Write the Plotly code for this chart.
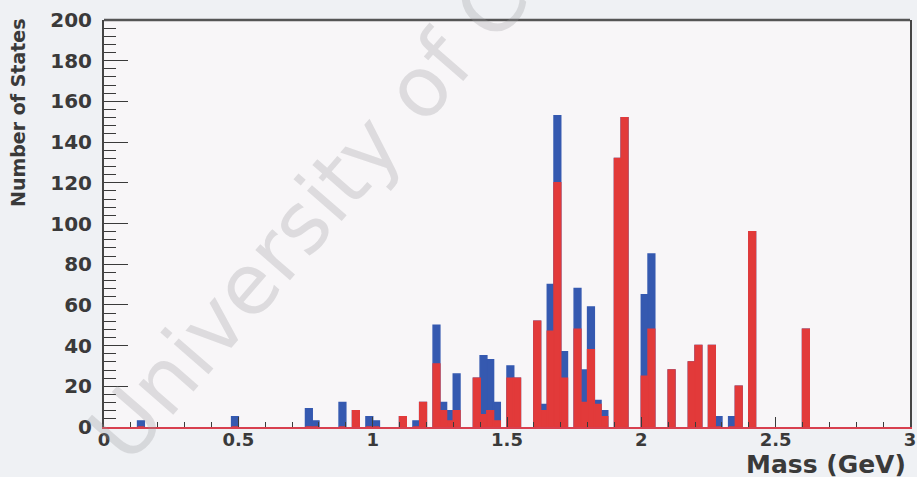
import plotly.graph_objects as go

# ---- data ----
bin_width = 0.025  # GeV
bin_low_edge = [0.125, 0.475, 0.75, 0.775, 0.875, 0.925, 0.975, 1.0, 1.10, 1.15,
                1.175, 1.225, 1.25, 1.275, 1.30, 1.375, 1.40, 1.425, 1.45, 1.50,
                1.525, 1.60, 1.625, 1.65, 1.675, 1.70, 1.75, 1.775, 1.80, 1.825,
                1.85, 1.90, 1.925, 2.00, 2.025, 2.10, 2.175, 2.20, 2.25, 2.275,
                2.325, 2.35, 2.40, 2.60]
total_states = [3, 5, 9, 3, 12, 8, 5, 3, 5, 3,
                12, 50, 12, 8, 26, 24, 35, 33, 12, 30,
                24, 52, 11, 70, 153, 37, 68, 28, 59, 13,
                8, 132, 152, 65, 85, 28, 32, 40, 40, 5,
                5, 20, 96, 48]
subset_states = [0, 0, 0, 0, 0, 8, 0, 0, 5, 0,
                 12, 31, 8, 3, 8, 24, 6, 8, 3, 24,
                 24, 52, 8, 47, 120, 24, 48, 12, 38, 11,
                 5, 132, 152, 25, 48, 28, 32, 40, 40, 0,
                 0, 20, 96, 48]
x_tick_vals = [0, 0.5, 1, 1.5, 2, 2.5, 3]
x_tick_text = ["0", "0.5", "1", "1.5", "2", "2.5", "3"]
y_tick_vals = [0, 20, 40, 60, 80, 100, 120, 140, 160, 180, 200]

centers = [e + bin_width / 2 for e in bin_low_edge]

BLUE = "#3559b0"
RED = "#e23a3a"
DARK = "#3a3a3a"
FONT = "DejaVu Sans"

fig = go.Figure()
fig.add_trace(go.Bar(x=centers, y=total_states, width=bin_width,
                     marker=dict(color=BLUE, line=dict(color=BLUE, width=1.5)),
                     name="all"))
fig.add_trace(go.Bar(x=centers, y=subset_states, width=bin_width,
                     marker=dict(color=RED, line=dict(color=RED, width=1.5)),
                     name="subset"))

fig.update_layout(
    width=917, height=477,
    margin=dict(l=104, r=1, t=20, b=50),
    barmode="overlay",
    showlegend=False,
    paper_bgcolor="#eff1f4",
    plot_bgcolor="#f8f6f8",
    font=dict(family=FONT, color=DARK),
)

fig.update_xaxes(
    range=[0, 3], tickvals=x_tick_vals, ticktext=x_tick_text,
    ticks="inside", ticklen=10, tickwidth=1.2, tickcolor=DARK,
    minor=dict(dtick=0.1, ticks="inside", ticklen=5, tickcolor=DARK, tickwidth=1),
    showgrid=False, zeroline=False,
    showline=True, linecolor="#d8404f", linewidth=1.5,
    tickfont=dict(family=FONT, size=18, color=DARK, weight="bold"),
    ticklabelstandoff=-4, ticklabeloverflow="allow",
)
fig.update_yaxes(
    range=[0, 200], tickvals=y_tick_vals,
    ticks="inside", ticklen=24, tickwidth=1.2, tickcolor=DARK,
    minor=dict(dtick=4, ticks="inside", ticklen=12, tickcolor=DARK, tickwidth=1),
    showgrid=False, zeroline=False,
    showline=True, linecolor="#444444", linewidth=2, mirror=True,
    tickfont=dict(family=FONT, size=20, color=DARK, weight="bold"),
    ticklabelstandoff=6,
)

# top frame line
fig.add_shape(type="line", xref="paper", yref="paper", x0=0, x1=1, y0=1, y1=1,
              line=dict(color="#555555", width=2.5))

# axis titles
fig.add_annotation(text="Mass (GeV)", xref="paper", yref="paper",
                   x=0.998, y=-0.093, xanchor="right", yanchor="middle",
                   showarrow=False,
                   font=dict(family=FONT, size=25, color=DARK, weight="bold"))
fig.add_annotation(text="Number of States", xref="paper", yref="paper",
                   x=-0.106, y=1.01, xanchor="center", yanchor="top",
                   textangle=-90, showarrow=False,
                   font=dict(family=FONT, size=19, color=DARK, weight="bold"))

# watermark
fig.add_annotation(text="University of C", xref="paper", yref="paper",
                   x=(310 - 104) / 812, y=(427 - 215) / 407,
                   xanchor="center", yanchor="middle", textangle=-49,
                   showarrow=False,
                   font=dict(family=FONT, size=84, color="rgba(150,150,155,0.28)"))

fig.write_html("out.html")
